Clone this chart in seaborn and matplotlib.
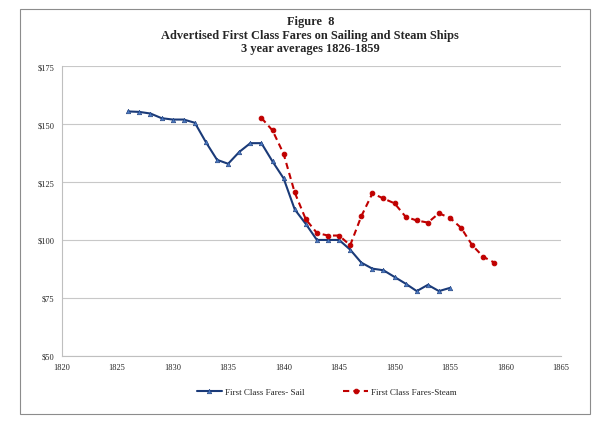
import matplotlib
matplotlib.use("Agg")
import matplotlib.pyplot as plt
import seaborn as sns
import pandas as pd
from matplotlib.patches import Rectangle
from matplotlib.ticker import FuncFormatter

sail_years = list(range(1826, 1856))
sail_fares = [155.5, 155.3, 154.6, 152.6, 152.0, 152.0, 150.6, 142.2, 134.6, 132.9,
              138.0, 141.8, 141.8, 133.9, 126.6, 113.2, 106.9, 100.0, 100.0, 100.0,
              95.8, 90.2, 87.6, 86.9, 84.0, 81.1, 77.9, 80.6, 77.9, 79.3]
steam_years = list(range(1838, 1860))
steam_fares = [152.7, 147.3, 137.2, 120.5, 108.9, 103.0, 101.9, 101.9, 97.7, 110.2,
               120.1, 117.9, 115.8, 110.0, 108.4, 107.5, 111.5, 109.5, 105.2, 97.7,
               92.7, 90.2]
sail_label = "First Class Fares- Sail"
steam_label = "First Class Fares-Steam"
title_lines = ["Figure  8", "Advertised First Class Fares on Sailing and Steam Ships",
               "3 year averages 1826-1859"]
x_ticks = list(range(1820, 1870, 5))
y_ticks = [50, 75, 100, 125, 150, 175]

sns.set_style("white")
plt.rcParams['font.family'] = ['Liberation Serif', 'DejaVu Serif']

df_sail = pd.DataFrame({"year": sail_years, "fare": sail_fares})
df_steam = pd.DataFrame({"year": steam_years, "fare": steam_fares})

fig = plt.figure(figsize=(6.06, 4.27), dpi=100)
fig.patches.append(Rectangle((20/606, 1-415/427), 570/606, 405/427, transform=fig.transFigure,
                             fill=False, edgecolor="#8c8c8c", linewidth=0.8))
ax = fig.add_axes([61.7/606, 1-356.7/427, (561-61.7)/606, (356.7-67.3)/427])

sns.lineplot(data=df_sail, x="year", y="fare", ax=ax, color="#1a3a78", linewidth=1.5,
             marker="^", markersize=3.3, markerfacecolor="#4a78c0", markeredgecolor="#1a3a78",
             markeredgewidth=0.4, label=sail_label)
sns.lineplot(data=df_steam, x="year", y="fare", ax=ax, color="#c00000", linewidth=1.5,
             linestyle=(0, (3, 2)), marker="o", markersize=3.3, markerfacecolor="#c00000",
             markeredgecolor="#c00000", label=steam_label)

ax.set_xlim(1820, 1865)
ax.set_ylim(50, 175)
ax.set_xticks(x_ticks)
ax.set_yticks(y_ticks)
ax.yaxis.set_major_formatter(FuncFormatter(lambda v, p: f"${int(v)}"))
ax.grid(axis="y", color="#c8c8c8", linewidth=0.8)
ax.set_xlabel("")
ax.set_ylabel("")
for s in ["top", "right"]:
    ax.spines[s].set_visible(False)
for s in ["left", "bottom"]:
    ax.spines[s].set_color("#bfbfbf")
    ax.spines[s].set_linewidth(0.8)
ax.tick_params(axis="both", labelsize=6, length=3, width=0.6, color="#bfbfbf", pad=2)

handles, labels = ax.get_legend_handles_labels()
ax.legend_.remove()
fig.legend(handles, labels, loc="center", bbox_to_anchor=(0.539, 1-393/427), ncol=2,
           frameon=False, fontsize=6.5, columnspacing=4.3, handlelength=2.8, handletextpad=0.3)

ys = [22, 35.5, 49]
for t, y in zip(title_lines, ys):
    fig.text(0.512, 1-y/427, t, ha="center", va="center", fontsize=8.9, fontweight="bold")

fig.savefig("out.png", dpi=100)
